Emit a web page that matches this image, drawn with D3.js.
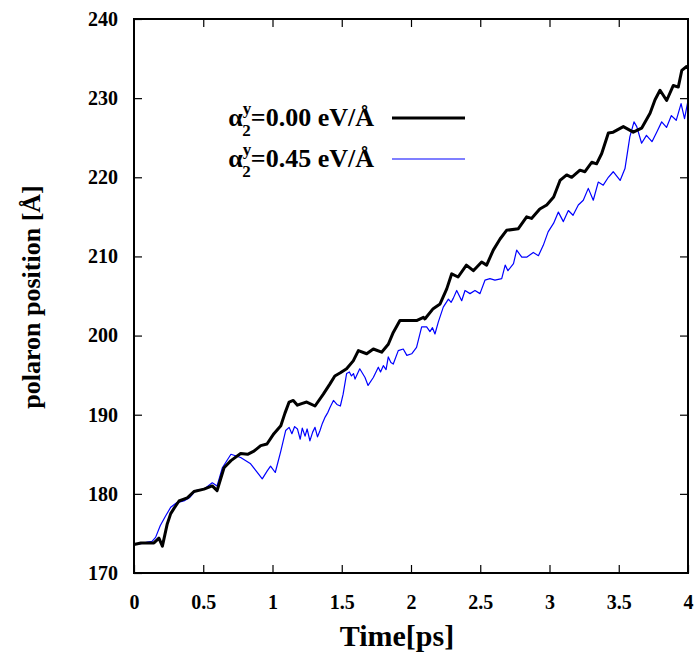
<!DOCTYPE html>
<html>
<head>
<meta charset="utf-8">
<script src="https://cdn.jsdelivr.net/npm/d3@7"></script>
<style>
  body { margin: 0; background: #fff; }
  svg { display: block; }
</style>
</head>
<body>
<script>
// Data: time [ps] and polaron position [Å]
var timeA = [0, 0.05, 0.1, 0.144, 0.18, 0.205, 0.24, 0.265, 0.29, 0.325, 0.385, 0.433, 0.505, 0.565, 0.60, 0.65, 0.70, 0.77, 0.82, 0.866, 0.915, 0.96, 1.01, 1.06, 1.09, 1.12, 1.15, 1.18, 1.21, 1.247, 1.307, 1.367, 1.415, 1.45, 1.49, 1.535, 1.583, 1.62, 1.68, 1.728, 1.788, 1.836, 1.872, 1.92, 1.99, 2.04, 2.09, 2.10, 2.16, 2.21, 2.258, 2.294, 2.34, 2.40, 2.45, 2.51, 2.546, 2.594, 2.643, 2.69, 2.775, 2.835, 2.87, 2.93, 2.98, 3.03, 3.076, 3.124, 3.16, 3.22, 3.256, 3.305, 3.34, 3.377, 3.425, 3.46, 3.533, 3.605, 3.665, 3.726, 3.762, 3.798, 3.846, 3.894, 3.93, 3.955, 3.99, 4.0];
var posA = [173.6, 173.8, 173.8, 173.8, 174.4, 173.4, 176.2, 177.5, 178.2, 179.1, 179.5, 180.3, 180.6, 181.0, 180.4, 183.3, 184.2, 185.1, 185.0, 185.4, 186.1, 186.3, 187.6, 188.6, 190.2, 191.6, 191.8, 191.2, 191.4, 191.6, 191.1, 192.6, 193.9, 194.9, 195.3, 195.8, 196.8, 198.1, 197.7, 198.3, 197.9, 198.9, 200.4, 201.9, 201.9, 201.9, 202.3, 202.1, 203.4, 204.0, 205.9, 207.8, 207.4, 208.9, 208.2, 209.3, 208.9, 210.8, 212.2, 213.3, 213.5, 215.0, 214.8, 216.0, 216.5, 217.5, 219.6, 220.3, 220.0, 220.9, 220.7, 221.9, 221.7, 223.0, 225.6, 225.7, 226.4, 225.7, 226.2, 228.1, 229.8, 231.0, 229.7, 231.6, 231.4, 233.5, 234.0, 233.8];

var timeB = [0, 0.05, 0.096, 0.13, 0.156, 0.19, 0.228, 0.265, 0.31, 0.36, 0.40, 0.445, 0.505, 0.565, 0.60, 0.638, 0.70, 0.77, 0.842, 0.89, 0.926, 0.962, 0.986, 1.02, 1.06, 1.095, 1.12, 1.14, 1.16, 1.18, 1.20, 1.215, 1.235, 1.25, 1.27, 1.29, 1.307, 1.325, 1.343, 1.36, 1.38, 1.40, 1.415, 1.44, 1.465, 1.49, 1.51, 1.535, 1.555, 1.57, 1.585, 1.596, 1.63, 1.668, 1.69, 1.728, 1.764, 1.78, 1.80, 1.82, 1.836, 1.855, 1.872, 1.908, 1.944, 1.97, 2.005, 2.04, 2.077, 2.113, 2.137, 2.155, 2.173, 2.197, 2.233, 2.27, 2.29, 2.305, 2.33, 2.366, 2.39, 2.426, 2.462, 2.498, 2.534, 2.57, 2.606, 2.655, 2.68, 2.70, 2.74, 2.763, 2.80, 2.835, 2.883, 2.92, 2.955, 2.99, 3.03, 3.064, 3.10, 3.136, 3.17, 3.208, 3.244, 3.28, 3.316, 3.352, 3.388, 3.425, 3.46, 3.51, 3.545, 3.58, 3.61, 3.63, 3.665, 3.70, 3.74, 3.774, 3.81, 3.845, 3.88, 3.915, 3.95, 3.975, 4.0];
var posB = [173.6, 173.7, 173.9, 174.0, 174.5, 176.0, 177.2, 178.3, 178.9, 179.1, 179.5, 180.4, 180.6, 181.4, 181.0, 183.3, 185.0, 184.6, 183.8, 182.7, 181.9, 182.9, 183.5, 182.7, 185.4, 188.0, 188.4, 187.6, 188.5, 188.2, 186.9, 188.3, 187.3, 188.2, 186.7, 187.8, 188.4, 187.2, 188.0, 188.9, 189.7, 190.3, 190.9, 191.8, 191.3, 191.1, 192.6, 195.2, 195.4, 194.9, 195.2, 194.5, 195.8, 194.7, 193.7, 194.7, 196.0, 195.4, 196.2, 195.7, 197.3, 196.6, 196.4, 198.1, 198.3, 197.5, 197.7, 198.5, 201.1, 201.1, 200.5, 201.0, 200.2, 201.7, 203.6, 204.6, 204.2, 204.7, 205.7, 204.4, 205.7, 205.3, 205.7, 205.3, 207.0, 207.2, 207.0, 207.2, 208.9, 208.2, 209.1, 210.8, 209.9, 209.9, 210.5, 210.1, 211.4, 213.1, 214.2, 215.6, 214.4, 215.8, 215.2, 216.5, 217.1, 218.6, 217.1, 219.4, 219.0, 220.0, 220.7, 219.6, 221.1, 225.1, 227.0, 226.4, 224.3, 225.3, 224.5, 225.7, 227.0, 226.3, 227.8, 227.2, 229.3, 227.4, 229.7];

var xTicks = [0, 0.5, 1, 1.5, 2, 2.5, 3, 3.5, 4];
var yTicks = [170, 180, 190, 200, 210, 220, 230, 240];
var legendValues = ["0.00", "0.45"];

var W = 694, H = 654,
	margin = {top: 19, right: 6, bottom: 81, left: 134},
	w = W - margin.left - margin.right,
	h = H - margin.top - margin.bottom,
	font = "'Liberation Serif', 'Times New Roman', serif";

var svg = d3.select("body")
	.append("svg")
	.attr("width", W)
	.attr("height", H);

var g = svg.append("g")
	.attr("transform", "translate(" + margin.left + "," + margin.top + ")");

var x = d3.scaleLinear().domain([0, 4]).range([0, w]);
var y = d3.scaleLinear().domain([170, 240]).range([h, 0]);

// Axes: ticks on all four sides, pointing inward
function styleAxis(sel) {
	sel.select(".domain").remove();
	sel.selectAll(".tick line").attr("stroke", "black").attr("stroke-width", 1.2);
	sel.selectAll("text")
		.attr("font-family", font)
		.attr("font-weight", "bold")
		.attr("font-size", "20px")
		.attr("fill", "black");
}

g.append("g")
	.attr("transform", "translate(0," + h + ")")
	.call(d3.axisBottom(x).tickValues(xTicks).tickFormat(d3.format("")).tickSizeInner(-8).tickPadding(22))
	.call(styleAxis);
g.append("g")
	.call(d3.axisTop(x).tickValues(xTicks.slice(1, -1)).tickFormat("").tickSizeInner(-8))
	.call(styleAxis);
g.append("g")
	.call(d3.axisLeft(y).tickValues(yTicks).tickSizeInner(-8).tickPadding(16))
	.call(styleAxis);
g.append("g")
	.attr("transform", "translate(" + w + ",0)")
	.call(d3.axisRight(y).tickValues(yTicks.slice(1, -1)).tickFormat("").tickSizeInner(-8))
	.call(styleAxis);

// Series
var line = d3.line()
	.x(function(d) { return x(d[0]); })
	.y(function(d) { return y(d[1]); });

var seriesA = d3.zip(timeA, posA),
	seriesB = d3.zip(timeB, posB);

g.append("path")
	.datum(seriesB)
	.attr("d", line)
	.attr("fill", "none")
	.attr("stroke", "#0000ff")
	.attr("stroke-width", 1.2)
	.attr("stroke-linejoin", "round");
g.append("path")
	.datum(seriesA)
	.attr("d", line)
	.attr("fill", "none")
	.attr("stroke", "black")
	.attr("stroke-width", 3)
	.attr("stroke-linejoin", "round");

// Frame
g.append("rect")
	.attr("width", w)
	.attr("height", h)
	.attr("fill", "none")
	.attr("stroke", "black")
	.attr("stroke-width", 2);

// Legend (alpha with stacked superscript y and subscript 2)
var legendColors = ["black", "#0000ff"],
	legendWidths = [3, 1.2];
legendValues.forEach(function(v, i) {
	var by = 126 + i * 41;
	var t = svg.append("text")
		.attr("x", 374)
		.attr("y", by)
		.attr("text-anchor", "end")
		.attr("font-family", font)
		.attr("font-weight", "bold")
		.attr("font-size", "26px");
	t.append("tspan").text("\u03b1");
	t.append("tspan").attr("dy", -12).attr("font-size", "17px").text("y");
	t.append("tspan").attr("dx", -9).attr("dy", 22).attr("font-size", "17px").text("2");
	t.append("tspan").attr("dy", -10).text("=" + v + " eV/\u00c5");
	svg.append("line")
		.attr("x1", 392)
		.attr("x2", 465)
		.attr("y1", by - 8)
		.attr("y2", by - 8)
		.attr("stroke", legendColors[i])
		.attr("stroke-width", legendWidths[i]);
});

// Axis titles
svg.append("text")
	.attr("x", 397)
	.attr("y", 646)
	.attr("text-anchor", "middle")
	.attr("font-family", font)
	.attr("font-weight", "bold")
	.attr("font-size", "30px")
	.text("Time[ps]");
svg.append("text")
	.attr("transform", "translate(40,297) rotate(-90)")
	.attr("text-anchor", "middle")
	.attr("font-family", font)
	.attr("font-weight", "bold")
	.attr("font-size", "26px")
	.text("polaron position [\u00c5]");
</script>
</body>
</html>
